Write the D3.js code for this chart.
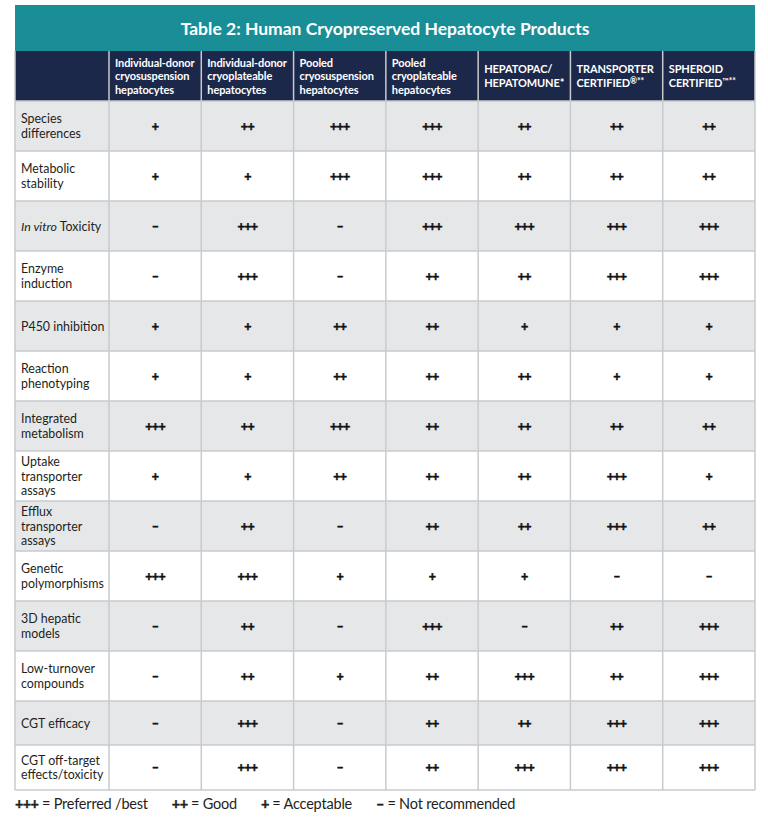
<!DOCTYPE html>
<html>
  <head>
    <meta charset="utf-8">
    <style>
        body { margin: 0; background: #fff; }
        svg { display: block; font-family: Lato, "Open Sans", sans-serif; }
    </style>
    <script src="https://d3js.org/d3.v7.min.js"></script>
  </head>
  <body>
    <svg></svg>
    <script>
    // ---- data ----
    var title = "Table 2: Human Cryopreserved Hepatocyte Products";

    var products = [
        ["Individual-donor", "cryosuspension", "hepatocytes"],
        ["Individual-donor", "cryoplateable", "hepatocytes"],
        ["Pooled", "cryosuspension", "hepatocytes"],
        ["Pooled", "cryoplateable", "hepatocytes"],
        ["HEPATOPAC/", "HEPATOMUNE*"],
        ["TRANSPORTER", "CERTIFIED\u00ae**"],
        ["SPHEROID", "CERTIFIED\u2122**"]
    ];

    var features = [
        ["Species", "differences"],
        ["Metabolic", "stability"],
        ["In vitro Toxicity"],
        ["Enzyme", "induction"],
        ["P450 inhibition"],
        ["Reaction", "phenotyping"],
        ["Integrated", "metabolism"],
        ["Uptake", "transporter", "assays"],
        ["Efflux", "transporter", "assays"],
        ["Genetic", "polymorphisms"],
        ["3D hepatic", "models"],
        ["Low-turnover", "compounds"],
        ["CGT efficacy"],
        ["CGT off-target", "effects/toxicity"]
    ];

    // ratings: 3 = +++, 2 = ++, 1 = +, 0 = not recommended
    var ratings = [
        [1, 2, 3, 3, 2, 2, 2],
        [1, 1, 3, 3, 2, 2, 2],
        [0, 3, 0, 3, 3, 3, 3],
        [0, 3, 0, 2, 2, 3, 3],
        [1, 1, 2, 2, 1, 1, 1],
        [1, 1, 2, 2, 2, 1, 1],
        [3, 2, 3, 2, 2, 2, 2],
        [1, 1, 2, 2, 2, 3, 1],
        [0, 2, 0, 2, 2, 3, 2],
        [3, 3, 1, 1, 1, 0, 0],
        [0, 2, 0, 3, 0, 2, 3],
        [0, 2, 1, 2, 3, 2, 3],
        [0, 3, 0, 2, 2, 3, 3],
        [0, 3, 0, 2, 3, 3, 3]
    ];

    var symbols = ["\u2013", "+", "++", "+++"];
    var legendLabels = ["= Not recommended", "= Acceptable", "= Good", "= Preferred /best"];
    var legendOrder = [3, 2, 1, 0];

    // ---- layout ----
    var W = 768, H = 820;
    var left = 15, right = 755, labelColW = 94;
    var titleTop = 5, headTop = 51, bodyTop = 101;
    var rowH = [50, 50, 50, 50, 50, 50, 50, 50, 50, 50, 50, 50, 44, 45];

    var svg = d3.select("svg").attr("width", W).attr("height", H);

    var x = d3.scaleBand()
        .domain(d3.range(products.length))
        .range([left + labelColW, right]);

    var rowTops = [];
    rowH.reduce(function(acc, h) { rowTops.push(acc); return acc + h; }, bodyTop);
    var y = d3.scaleOrdinal().domain(d3.range(features.length)).range(rowTops);
    var bottom = rowTops[rowTops.length - 1] + rowH[rowH.length - 1];

    // title band
    svg.append("rect")
        .attr("x", left).attr("y", titleTop)
        .attr("width", right - left).attr("height", headTop - titleTop)
        .attr("fill", "#1a8e97");
    svg.append("text")
        .attr("x", (left + right) / 2).attr("y", (titleTop + headTop) / 2 + 6.5)
        .attr("text-anchor", "middle")
        .attr("fill", "#fff")
        .attr("font-size", 17.5)
        .attr("font-weight", "bold")
        .text(title);

    // header band
    svg.append("rect")
        .attr("x", left).attr("y", headTop)
        .attr("width", right - left).attr("height", bodyTop - headTop)
        .attr("fill", "#1c284a");

    var head = svg.append("g").selectAll("text")
        .data(products)
        .enter().append("text")
        .attr("fill", "#fff")
        .attr("font-size", 11)
        .attr("font-weight", "bold")
        .attr("letter-spacing", -0.1);
    head.selectAll("tspan")
        .data(function(d, i) {
            return d.map(function(t, j) { return {t: t, j: j, n: d.length, i: i}; });
        })
        .enter().append("tspan")
        .attr("x", function(d) { return x(d.i) + 6; })
        .attr("y", function(d) {
            return (headTop + bodyTop) / 2 + 4 + (d.j - (d.n - 1) / 2) * 13.5;
        })
        .each(function(d) {
            var el = d3.select(this);
            var m = d.t.search(/[\u00ae\u2122]/);
            if (m < 0) { el.text(d.t); return; }
            el.append("tspan").text(d.t.slice(0, m));
            el.append("tspan")
                .attr("font-size", 8.5)
                .attr("dy", -2.5)
                .text(d.t.slice(m));
        });

    // body rows
    var rows = svg.append("g").selectAll("g")
        .data(features)
        .enter().append("g");

    rows.append("rect")
        .attr("x", left)
        .attr("y", function(d, i) { return y(i); })
        .attr("width", right - left)
        .attr("height", function(d, i) { return rowH[i]; })
        .attr("fill", function(d, i) { return i % 2 === 0 ? "#e6e7e9" : "#fff"; });

    var labels = rows.append("text")
        .attr("fill", "#231f20")
        .attr("font-size", 12.4);
    labels.selectAll("tspan")
        .data(function(d, i) {
            return d.map(function(t, j) { return {t: t, j: j, n: d.length, i: i}; });
        })
        .enter().append("tspan")
        .attr("x", left + 6)
        .attr("y", function(d) {
            return y(d.i) + rowH[d.i] / 2 + 4.5 + (d.j - (d.n - 1) / 2) * 14.7;
        })
        .each(function(d) {
            var el = d3.select(this);
            if (d.t.indexOf("In vitro") === 0) {
                el.append("tspan").attr("font-style", "italic").text("In vitro");
                el.append("tspan").text(d.t.slice(8));
            } else {
                el.text(d.t);
            }
        });

    rows.selectAll(".cell")
        .data(function(d, i) { return ratings[i].map(function(v, k) { return {v: v, k: k, i: i}; }); })
        .enter().append("text")
        .attr("class", "cell")
        .attr("x", function(d) { return x(d.k) + x.bandwidth() / 2; })
        .attr("y", function(d) { return y(d.i) + rowH[d.i] / 2 + 4.5; })
        .attr("text-anchor", "middle")
        .attr("fill", "#111")
        .attr("stroke", "#111")
        .attr("stroke-width", 0.5)
        .attr("font-size", 12.5)
        .attr("font-weight", "bold")
        .attr("letter-spacing", -0.7)
        .text(function(d) { return symbols[d.v]; });

    // grid lines
    var grid = svg.append("g").attr("stroke", "#c9cacc").attr("stroke-width", 1.5);
    grid.selectAll(".h")
        .data(rowTops.slice(1).concat([bottom]))
        .enter().append("line")
        .attr("x1", left).attr("x2", right)
        .attr("y1", function(d) { return d; }).attr("y2", function(d) { return d; });
    grid.selectAll(".v")
        .data([left].concat(d3.range(products.length).map(function(k) { return x(k); })).concat([right]))
        .enter().append("line")
        .attr("x1", function(d) { return d; }).attr("x2", function(d) { return d; })
        .attr("y1", headTop).attr("y2", bottom);
    svg.append("line")
        .attr("x1", left).attr("x2", right)
        .attr("y1", bodyTop).attr("y2", bodyTop)
        .attr("stroke", "#c9cacc").attr("stroke-width", 1.5);

    // legend
    var lx = left;
    legendOrder.forEach(function(v) {
        var g = svg.append("text")
            .attr("x", lx).attr("y", 809)
            .attr("font-size", 14.5)
            .attr("fill", "#231f20");
        g.append("tspan")
            .attr("font-weight", "bold")
            .attr("stroke", "#231f20").attr("stroke-width", 0.4)
            .attr("letter-spacing", -0.6)
            .text(symbols[v]);
        g.append("tspan").attr("letter-spacing", -0.2).text(" " + legendLabels[v]);
        lx += g.node().getComputedTextLength() + 24;
    });
    </script>
  </body>
</html>
